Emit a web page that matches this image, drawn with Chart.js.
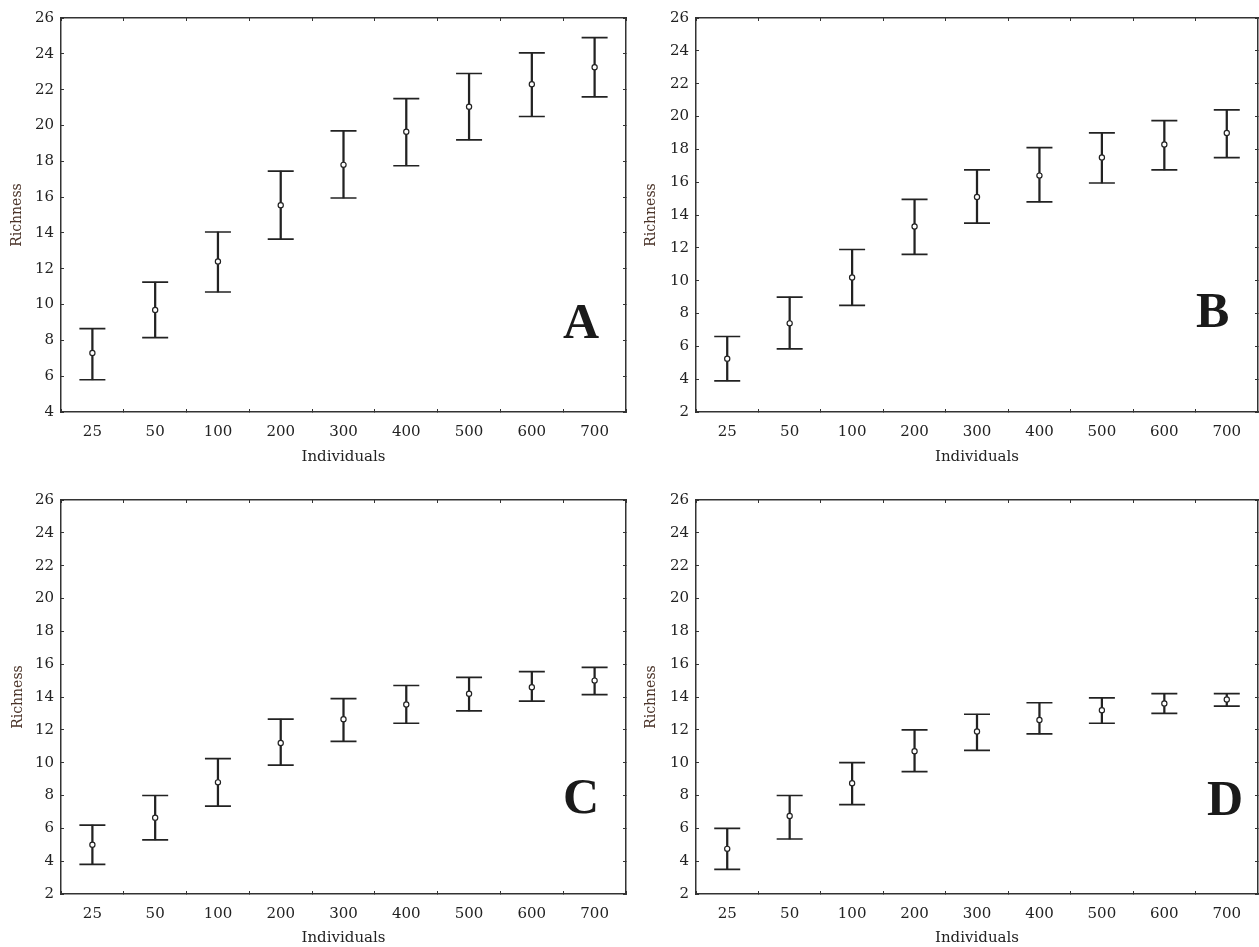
<!DOCTYPE html>
<html>
<head>
<meta charset="utf-8">
<script src="https://cdn.jsdelivr.net/npm/chart.js@4.4.1/dist/chart.umd.min.js"></script>
<style>
  html, body { margin: 0; padding: 0; background: #fff; }
  body { width: 1259px; height: 947px; position: relative; overflow: hidden; }
  canvas { position: absolute; }
  .lbl { position: absolute; font-family: 'Liberation Serif', 'Times New Roman', serif; font-weight: bold;
         font-size: 50px; line-height: 50px; color: #1a1a1a; }
</style>
</head>
<body>
<canvas id="cA" width="630" height="475" style="left:0;top:0"></canvas>
<canvas id="cB" width="629" height="475" style="left:630px;top:0"></canvas>
<canvas id="cC" width="630" height="472" style="left:0;top:475px"></canvas>
<canvas id="cD" width="629" height="472" style="left:630px;top:475px"></canvas>
<div class="lbl" style="left:563px;top:296px">A</div>
<div class="lbl" style="left:1196px;top:285px">B</div>
<div class="lbl" style="left:563px;top:771px">C</div>
<div class="lbl" style="left:1207px;top:773px">D</div>
<script>
// ---- data ----
const categories = ['25', '50', '100', '200', '300', '400', '500', '600', '700'];
const xTitle = 'Individuals';
const yTitle = 'Richness';

const meanA  = [7.3, 9.7, 12.4, 15.55, 17.8, 19.65, 21.05, 22.3, 23.25];
const upperA = [8.65, 11.25, 14.05, 17.45, 19.7, 21.5, 22.9, 24.05, 24.9];
const lowerA = [5.8, 8.15, 10.7, 13.65, 15.95, 17.75, 19.2, 20.5, 21.6];

const meanB  = [5.25, 7.4, 10.2, 13.3, 15.1, 16.4, 17.5, 18.3, 19.0];
const upperB = [6.6, 9.0, 11.9, 14.95, 16.75, 18.1, 19.0, 19.75, 20.4];
const lowerB = [3.9, 5.85, 8.5, 11.6, 13.5, 14.8, 15.95, 16.75, 17.5];

const meanC  = [5.0, 6.65, 8.8, 11.2, 12.65, 13.55, 14.2, 14.6, 15.0];
const upperC = [6.2, 8.0, 10.25, 12.65, 13.9, 14.7, 15.2, 15.55, 15.8];
const lowerC = [3.8, 5.3, 7.35, 9.85, 11.3, 12.4, 13.15, 13.75, 14.15];

const meanD  = [4.75, 6.75, 8.75, 10.7, 11.9, 12.6, 13.2, 13.6, 13.85];
const upperD = [6.0, 8.0, 10.0, 12.0, 12.95, 13.65, 13.95, 14.2, 14.2];
const lowerD = [3.5, 5.35, 7.45, 9.45, 10.75, 11.75, 12.4, 13.0, 13.45];

const yMaxAll = 26;
const yStep = 2;

// ---- drawing ----
const INK = '#222';
const AX = '#333';

function noPad(s) { s.paddingLeft = 0; s.paddingRight = 0; s.paddingTop = 0; s.paddingBottom = 0; }

function makePanel(id, mean, upper, lower, yMin, geo) {
  const tickFont = { family: "'DejaVu Serif', serif", size: 15 };
  return new Chart(document.getElementById(id), {
    type: 'bar',
    data: {
      labels: categories,
      datasets: [
        { type: 'line', data: mean, showLine: false, pointStyle: 'circle', pointRadius: 2.6,
          pointBackgroundColor: '#fff', pointBorderColor: INK, pointBorderWidth: 1.2, order: 0 },
        { type: 'line', data: upper, showLine: false, pointStyle: 'line', pointRadius: 13,
          pointBorderColor: INK, pointBorderWidth: 1.7, order: 1 },
        { type: 'line', data: lower, showLine: false, pointStyle: 'line', pointRadius: 13,
          pointBorderColor: INK, pointBorderWidth: 1.7, order: 1 },
        { type: 'bar', data: lower.map((l, i) => [l, upper[i]]), backgroundColor: INK,
          borderWidth: 0, barThickness: 1.6, order: 2 }
      ]
    },
    options: {
      responsive: false,
      animation: false,
      events: [],
      layout: { autoPadding: false, padding: { top: geo.top, right: geo.right, left: 0, bottom: 0 } },
      plugins: { legend: { display: false }, tooltip: { enabled: false } },
      scales: {
        x: {
          type: 'category', position: 'bottom', offset: true,
          grid: { display: true, offset: true, drawOnChartArea: false, drawTicks: true,
                  tickLength: -3, color: AX, tickWidth: 1 },
          border: { display: true, color: AX, width: 1.5 },
          ticks: { font: tickFont, color: INK, padding: 14, maxRotation: 0, autoSkip: false },
          title: { display: true, text: xTitle, color: INK,
                   font: { family: "'DejaVu Serif', serif", size: 15, lineHeight: 1 },
                   padding: { top: 0, bottom: geo.tpad } },
          afterFit: s => { s.height = geo.xh; noPad(s); }
        },
        x2: {
          type: 'category', position: 'top', offset: true,
          grid: { display: true, offset: true, drawOnChartArea: false, drawTicks: true,
                  tickLength: -3, color: AX, tickWidth: 1 },
          border: { display: true, color: AX, width: 1.5 },
          ticks: { display: false },
          afterFit: s => { s.height = 0; noPad(s); }
        },
        y: {
          type: 'linear', position: 'left', min: yMin, max: yMaxAll,
          grid: { display: true, drawOnChartArea: false, drawTicks: true,
                  tickLength: -3, color: AX, tickWidth: 1 },
          border: { display: true, color: AX, width: 1.5 },
          ticks: { stepSize: yStep, font: tickFont, color: INK, padding: 10 },
          title: { display: true, text: yTitle, color: '#4a3328',
                   font: { family: "'DejaVu Serif', serif", size: 14, lineHeight: 1 },
                   padding: { top: geo.ytpad, bottom: 0 } },
          afterFit: s => { s.width = geo.yw; noPad(s); }
        },
        y2: {
          type: 'linear', position: 'right', min: yMin, max: yMaxAll,
          grid: { display: true, drawOnChartArea: false, drawTicks: true,
                  tickLength: -3, color: AX, tickWidth: 1 },
          border: { display: true, color: AX, width: 1.5 },
          ticks: { display: false, stepSize: yStep },
          afterFit: s => { s.width = 0; noPad(s); }
        }
      }
    }
  });
}

makePanel('cA', meanA, upperA, lowerA, 4, { top: 18, right: 4, yw: 61, xh: 63, tpad: 10.5, ytpad: 10 });
makePanel('cB', meanB, upperB, lowerB, 2, { top: 18, right: 1, yw: 66, xh: 63, tpad: 10.5, ytpad: 14 });
makePanel('cC', meanC, upperC, lowerC, 2, { top: 25, right: 4, yw: 61, xh: 53, tpad: 1.5, ytpad: 11 });
makePanel('cD', meanD, upperD, lowerD, 2, { top: 25, right: 1, yw: 66, xh: 53, tpad: 1.5, ytpad: 14 });
</script>
</body>
</html>
